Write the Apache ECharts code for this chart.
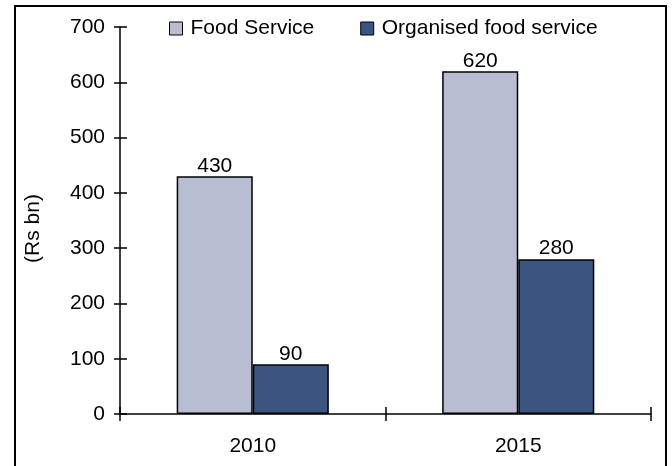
<!DOCTYPE html>
<html>
<head>
<meta charset="utf-8">
<script src="https://cdn.jsdelivr.net/npm/echarts@6/dist/echarts.min.js"></script>
<style>
  html, body { margin: 0; padding: 0; background: #fff; }
  #chart { width: 672px; height: 466px; }
</style>
</head>
<body>
<div id="chart"></div>
<script>
// Market size, Rs bn
const years = ['2010', '2015'];
const foodService = [430, 620];
const organisedFoodService = [90, 280];
const seriesNames = ['Food Service', 'Organised food service'];
const yTicks = [0, 100, 200, 300, 400, 500, 600, 700];

const FONT = 'Liberation Sans, Arial, sans-serif';
const FS = 21;

const chart = echarts.init(document.getElementById('chart'));

const barStyle = (color) => ({ color: color, borderColor: '#000', borderWidth: 1.5 });
const valueLabel = { show: true, position: 'top', distance: 0, color: '#000', fontFamily: FONT, fontSize: FS };

// outer frame of the chart area
const frameLine = (x1, y1, x2, y2) => ({
  type: 'line', z: 100, silent: true,
  shape: { x1: x1, y1: y1, x2: x2, y2: y2 },
  style: { stroke: '#000', lineWidth: 2 }
});

chart.setOption({
  animation: false,
  backgroundColor: '#fff',
  textStyle: { fontFamily: FONT },
  graphic: [
    frameLine(14, 6, 667, 6),
    frameLine(15, 5, 15, 466),
    frameLine(666, 5, 666, 466)
  ],
  legend: {
    top: 13,
    left: 164,
    itemWidth: 13,
    itemHeight: 13,
    itemGap: 46,
    icon: 'rect',
    textStyle: { fontFamily: FONT, fontSize: FS, color: '#000', padding: [0, 0, 0, 3] },
    data: seriesNames.map(n => ({ name: n, itemStyle: { borderColor: '#000', borderWidth: 1 } }))
  },
  grid: { left: 120, right: 21, top: 27, bottom: 52 },
  xAxis: [{
    type: 'category',
    data: years,
    axisLine: { lineStyle: { color: '#000', width: 1.5 } },
    axisTick: { show: true, length: 7, lineStyle: { color: '#000', width: 1.5 } },
    axisLabel: { color: '#000', fontFamily: FONT, fontSize: FS, margin: 22 }
  }, {
    type: 'category',
    data: years,
    position: 'bottom',
    axisLine: { show: false },
    axisTick: { show: true, inside: true, length: 7, lineStyle: { color: '#000', width: 1.5 } },
    axisLabel: { show: false }
  }],
  yAxis: [{
    type: 'value',
    min: yTicks[0],
    max: yTicks[yTicks.length - 1],
    interval: 100,
    name: '(Rs bn)',
    nameLocation: 'middle',
    nameGap: 76,
    nameTextStyle: { color: '#000', fontFamily: FONT, fontSize: FS, padding: [0, 16, 0, 0] },
    splitLine: { show: false },
    axisLine: { show: true, lineStyle: { color: '#000', width: 1.5 } },
    axisTick: { show: true, length: 6, lineStyle: { color: '#000', width: 1.5 } },
    axisLabel: { color: '#000', fontFamily: FONT, fontSize: FS, margin: 15 }
  }, {
    type: 'value',
    position: 'left',
    min: yTicks[0],
    max: yTicks[yTicks.length - 1],
    interval: 100,
    splitLine: { show: false },
    axisLine: { show: false },
    axisTick: { show: true, inside: true, length: 7, lineStyle: { color: '#000', width: 1.5 } },
    axisLabel: { show: false }
  }],
  series: [{
    name: seriesNames[0],
    type: 'bar',
    data: foodService,
    barGap: '0%',
    barCategoryGap: '42.7%',
    itemStyle: barStyle('#b8bdd2'),
    label: valueLabel
  }, {
    name: seriesNames[1],
    type: 'bar',
    data: organisedFoodService,
    itemStyle: barStyle('#3b5580'),
    label: valueLabel
  }]
});
</script>
</body>
</html>
